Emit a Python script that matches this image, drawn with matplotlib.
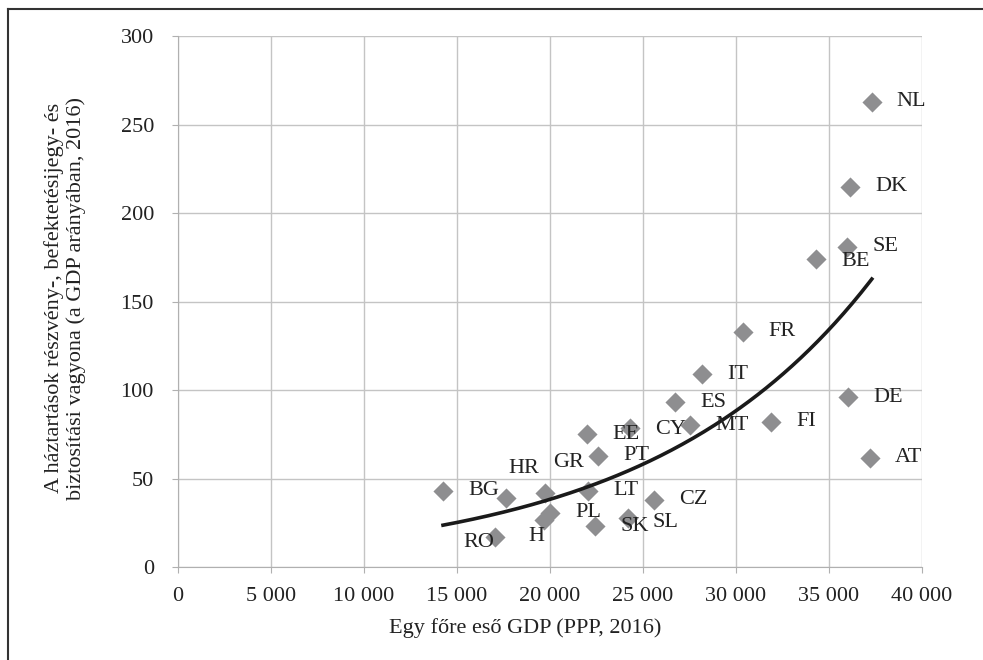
import numpy as np
import matplotlib.pyplot as plt
from matplotlib.lines import Line2D

plt.rcParams['font.family'] = ['Liberation Serif', 'DejaVu Serif']

countries = ['NL', 'DK', 'SE', 'BE', 'FR', 'IT', 'ES', 'MT', 'CY', 'EE', 'PT',
             'LT', 'SK', 'SL', 'CZ', 'FI', 'DE', 'AT', 'BG', 'RO', 'HR', 'GR',
             'H', 'PL']
gdp = [37300, 36130, 35970, 34300, 30380, 28170, 26720, 27530, 24300, 21990,
       22580, 22040, 22420, 24190, 25590, 31880, 36020, 37200, 14250, 17040,
       17630, 19730, 19680, 20000]
wealth = [263, 215, 181, 174, 133, 109, 93, 80, 78.5, 75, 63, 43, 23, 27.7,
          38, 82, 96, 61.6, 43, 17, 39, 42, 26.5, 30.5]
# label offsets in points (dx, dy), most sit right of the marker
offsets = {'BE': (18, -2), 'RO': (-23, -4), 'HR': (2, 21), 'GR': (6, 21.5),
           'H': (-11, -12), 'SL': (18, -3), 'CY': (18, -1)}

x = np.array(gdp, dtype=float)
y = np.array(wealth, dtype=float)

fig = plt.figure(figsize=(9.83, 6.6), dpi=100)
ax = fig.add_axes([0.181, 0.141, 0.757, 0.804])

ax.scatter(x, y, marker='D', s=105, color='#8e8e90', zorder=3, linewidths=0)

# exponential trendline as in Excel: regress ln(y) on x
b, lna = np.polyfit(x, np.log(y), 1)
xs = np.linspace(x.min(), x.max(), 200)
ax.plot(xs, np.exp(lna) * np.exp(b * xs), color='#1a1a1a', lw=2.6, zorder=4)

for c, xi, yi in zip(countries, x, y):
    dx, dy = offsets.get(c, (18, 0))
    ax.annotate(c, (xi, yi), xytext=(dx, dy), textcoords='offset points',
                fontsize=16, va='center', ha='left', color='#222222', zorder=5)

ax.set_xlim(0, 40000)
ax.set_ylim(0, 300)
ax.set_xticks(np.arange(0, 40001, 5000))
ax.set_yticks(np.arange(0, 301, 50))
ax.set_xticklabels(['0'] + ['%d 000' % (v // 1000) for v in range(5000, 40001, 5000)])
ax.grid(True, color='#c4c4c4', lw=1)
ax.set_axisbelow(True)
for s in ['top', 'right']:
    ax.spines[s].set_visible(False)
for s in ['left', 'bottom']:
    ax.spines[s].set_color('#b0b0b0')
ax.tick_params(colors='#b0b0b0', labelcolor='#222222', labelsize=16, length=4.3)
ax.tick_params(axis='y', pad=13)
ax.tick_params(axis='x', pad=10)

fig.text(525 / 983, 1 - 628 / 660, 'Egy főre eső GDP (PPP, 2016)', fontsize=16,
         color='#222222', ha='center', va='center')
fig.text(65.5 / 983, 1 - 298 / 660,
         'A háztartások részvény-, befektetésijegy- és\nbiztosítási vagyona (a GDP arányában, 2016)',
         fontsize=16, color='#222222', rotation=90, ha='center', va='center',
         linespacing=1.15)

# frame around the figure (only top and left edges fall inside the picture)
fig.add_artist(Line2D([8 / 983, 8 / 983], [0, 1 - 9 / 660], color='#333333', lw=1.5))
fig.add_artist(Line2D([8 / 983, 1], [1 - 9 / 660, 1 - 9 / 660], color='#333333', lw=1.5))

fig.savefig('out.png', dpi=100)
